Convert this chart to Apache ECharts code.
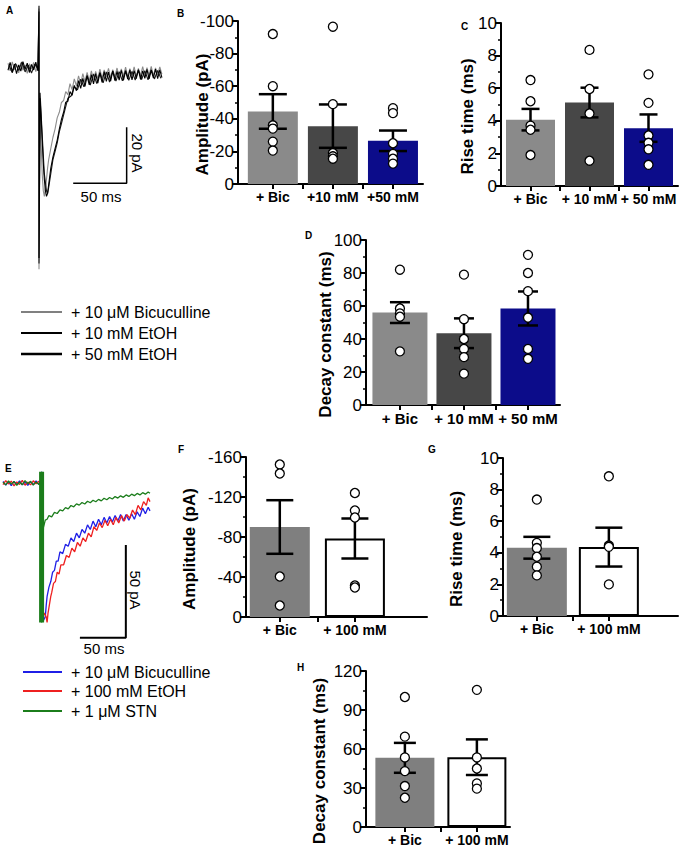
<!DOCTYPE html>
<html>
<head>
<meta charset="utf-8">
<title>EtOH / bicuculline IPSC figure</title>
<script src="https://cdn.jsdelivr.net/npm/echarts@6.0.0/dist/echarts.min.js"></script>
<style>
  html, body { margin: 0; padding: 0; background: #fff; }
  #main { width: 682px; height: 850px; }
</style>
</head>
<body>
<div id="main"></div>
<script>
// ---------- data ----------
// panel A traces, [time (ms), current (pA)]
var traceA_bic = [[0,1.5],[2,-1.2],[4,2.0],[6,-0.8],[8,1.1],[10,-1.9],[12,1.7],[14,-1.0],[16,0.9],[18,-2.1],[20,1.3],[22,-0.6],[24,1.8],[26,-1.5],[28,0.6],
  [29,21],[29,-72],[30,-14],[31,-27],[32,-38],[33,-44],[34,-46],[35,-43],[36,-40],[37,-36],[38,-33],[40,-29],[42,-25],[44,-22],[46,-18],[48,-16],
  [50,-12.5],[52,-11.8],[54,-8.6],[56,-9.7],[58,-5.8],[60,-7.9],[62,-4.1],[64,-6.6],[66,-3.0],[68,-5.9],[70,-2.2],[72,-5.1],[74,-1.8],[76,-4.7],
  [78,-1.2],[80,-4.5],[82,-1.4],[84,-4.0],[86,-0.6],[88,-3.9],[90,-0.9],[92,-3.4],[94,-0.3],[96,-3.6],[98,-0.8],[100,-3.2],[102,-0.2],[104,-3.5],
  [106,-0.5],[108,-3.0],[110,0.1],[112,-3.3],[114,-0.4],[116,-2.9],[118,0.2],[120,-3.1],[122,-0.3],[124,-2.8],[126,0.3],[128,-3.0],[130,-0.1],
  [132,-2.7],[134,0.4],[136,-2.9],[138,-0.2],[140,-2.6],[142,0.2],[144,-2.4]];
var traceA_10 = [[0,-1.0],[2,1.8],[4,-1.6],[6,1.2],[8,-2.2],[10,0.9],[12,-1.3],[14,2.1],[16,-0.7],[18,1.5],[20,-1.8],[22,1.1],[24,-0.9],[26,1.9],[28,-1.2],
  [29,22],[29,-68],[30,-11],[31,-18],[32,-26],[33,-34],[34,-40],[35,-44],[36,-46],[37,-45],[38,-42],[39,-39],[40,-36],[42,-32],[44,-29],[46,-26],
  [48,-22],[50,-18.5],[52,-16.0],[54,-12.4],[56,-12.1],[58,-8.6],[60,-10.0],[62,-6.4],[64,-8.3],[66,-4.7],[68,-7.5],[70,-3.9],[72,-6.8],[74,-3.1],
  [76,-6.2],[78,-2.6],[80,-5.9],[82,-2.2],[84,-5.6],[86,-1.9],[88,-5.3],[90,-1.5],[92,-5.0],[94,-1.7],[96,-4.9],[98,-1.2],[100,-4.7],[102,-1.4],
  [104,-4.5],[106,-1.0],[108,-4.6],[110,-1.3],[112,-4.2],[114,-0.9],[116,-4.4],[118,-1.1],[120,-4.0],[122,-0.8],[124,-4.3],[126,-1.2],[128,-3.9],
  [130,-0.7],[132,-4.1],[134,-1.0],[136,-3.8],[138,-0.6],[140,-4.0],[142,-0.9],[144,-3.6]];
var traceA_50 = [[1,0.7],[4,-1.9],[7,1.4],[10,-1.1],[13,2.0],[16,-1.6],[19,0.8],[22,-2.0],[25,1.2],[28,-0.5],
  [29,20],[29,-70],[30,-9],[32,-24],[34,-38],[36,-44],[37,-45],[38,-43],[40,-38],[42,-33],[44,-30],[46,-27],[48,-23],[50,-20],[53,-15.5],[56,-11.0],
  [59,-10.2],[62,-6.9],[65,-8.0],[68,-4.2],[71,-6.9],[74,-2.8],[77,-6.3],[80,-2.3],[83,-5.8],[86,-1.8],[89,-5.5],[92,-1.6],[95,-5.2],[98,-1.3],
  [101,-4.9],[104,-1.5],[107,-4.8],[110,-1.1],[113,-4.6],[116,-1.4],[119,-4.5],[122,-1.0],[125,-4.3],[128,-1.2],[131,-4.4],[134,-0.8],[137,-4.1],
  [140,-1.1],[143,-3.9]];

// panel E traces, [time (ms), current (pA)]
var traceE_bic = [[0,0.8],[3,-1.1],[6,0.6],[9,-1.4],[12,0.9],[15,-0.7],[18,1.2],[21,-1.0],[24,0.4],[27,-1.3],[30,0.7],[33,-0.9],[36,1.1],[39,-0.6],[41,0.3],
  [42,6],[42,-72],[44,-74],[46,-72],[47,-66],[48,-61],[50,-56],[52,-53],[54,-48],[56,-47],[58,-42],[60,-42],[62,-37],[65,-38],[68,-33],[71,-34],
  [74,-29.5],[77,-31.5],[80,-27],[83,-29.5],[86,-25],[89,-27],[92,-22.5],[95,-25],[98,-20.5],[101,-23.5],[104,-19.5],[107,-22.5],[110,-18.5],
  [113,-21.5],[116,-18],[119,-21],[122,-17.5],[125,-20.5],[128,-17],[131,-20.5],[134,-17],[137,-20],[140,-16.5],[143,-19.5],[146,-15.5],[149,-18],
  [152,-13.5],[155,-16.5],[158,-13],[160,-15]];
var traceE_100 = [[0,-0.9],[3,1.3],[6,-0.5],[9,1.0],[12,-1.5],[15,0.6],[18,-0.8],[21,1.4],[24,-1.2],[27,0.5],[30,-1.0],[33,1.2],[36,-0.4],[39,0.9],[41,-0.7],
  [42,5],[42,-73],[45,-70],[47,-72],[48,-75],[49,-70],[50,-67],[52,-61],[53,-59],[55,-54],[57,-53],[59,-48],[61,-49],[63,-44],[66,-44],[69,-39],
  [72,-40],[75,-35],[78,-37],[81,-32],[84,-34],[87,-29.5],[90,-31.5],[93,-27],[96,-29],[99,-23.5],[102,-25.5],[105,-21.5],[108,-24],[111,-20],
  [114,-23],[117,-19.5],[120,-22.5],[123,-18.5],[126,-21.5],[129,-17.5],[132,-20.5],[135,-17],[138,-19],[141,-14.5],[144,-17],[147,-12],[150,-14.5],
  [153,-10],[156,-12],[158,-8],[160,-10]];
var traceE_stn = [[0,0.4],[3,-1.0],[6,1.1],[9,-0.6],[12,0.8],[15,-1.2],[18,0.5],[21,-0.9],[24,1.3],[27,-0.4],[30,0.9],[33,-1.1],[36,0.6],[39,-0.8],[41,0.5],
  [42,6],[42,-75],[44,-24],[46,-20],[48,-19.5],[50,-17.5],[53,-18.2],[56,-15.8],[59,-16.4],[62,-14.5],[65,-15.0],[68,-13.2],[71,-13.9],[74,-12.1],
  [77,-12.8],[80,-11.2],[83,-11.9],[86,-10.5],[89,-11.3],[92,-9.8],[95,-10.6],[98,-9.3],[101,-10.1],[104,-8.8],[107,-9.6],[110,-8.2],[113,-9.0],
  [116,-7.8],[119,-8.6],[122,-7.3],[125,-8.1],[128,-6.9],[131,-7.7],[134,-6.4],[137,-7.2],[140,-6.0],[143,-6.8],[146,-5.6],[149,-6.4],[152,-5.2],
  [155,-6.0],[158,-4.8],[160,-5.5]];
var artifactE = [[42, 6], [42, -75]];

// scale bars (ms, pA)
var scaleA = { t: 61, v: -41.3, dt: 50, dv: 20 };
var scaleE = { t: 83.7, v: -83.3, dt: 50, dv: 50 };

// bar panels
var catsB = ['+ Bic', '+10 mM', '+50 mM'];
var catsCD = ['+ Bic', '+ 10 mM', '+ 50 mM'];
var catsFGH = ['+ Bic', '+ 100 mM'];

var ampB_mean = [-44.5, -35.5, -26.5];
var ampB_sem = [10.6, 13.3, 6.3];
var ampB_cells = [[-92, -60, -36, -34, -26, -20.5], [-96.5, -49, -19, -17, -15.5], [-46.5, -43.5, -25, -18.5, -15.5, -12.5]];

var riseC_mean = [4.07, 5.12, 3.55];
var riseC_sem = [0.66, 0.91, 0.84];
var riseC_cells = [[6.5, 5.2, 3.7, 3.45, 1.9], [8.35, 5.95, 4.45, 1.55], [6.85, 5.1, 3.1, 2.65, 2.25, 1.3]];

var decayD_mean = [56, 43.5, 58.5];
var decayD_sem = [6.3, 9, 10.3];
var decayD_cells = [[82, 58.5, 55.5, 53.5, 32.5], [79, 52, 40, 34, 29, 19], [91, 80, 69, 53, 34, 28]];

var ampF_mean = [-90, -78.5];
var ampF_sem = [26.8, 20];
var ampF_cells = [[-152.5, -143.5, -40.5, -11.5], [-124, -106.5, -99.5, -31.5, -29.5]];

var riseG_mean = [4.32, 4.36];
var riseG_sem = [0.69, 1.23];
var riseG_cells = [[7.37, 4.63, 4.3, 3.75, 3.12, 2.57], [8.84, 4.46, 4.38, 2.0]];

var decayH_mean = [53.2, 53.7];
var decayH_sem = [11.5, 13.7];
var decayH_cells = [[100, 69.5, 53.5, 43, 31.5, 22.5], [105.5, 53.5, 45, 33.5, 29.5]];

// ---------- chart ----------
var FONT = 'Arial, "Liberation Sans", Helvetica, sans-serif';
var colorsEtOH = ['#8a8a8a', '#474747', '#0c0c8a'];
var colorsSTN = ['#7f7f7f', '#ffffff'];

var grids = [], xAxes = [], yAxes = [], series = [];

function addTracePanel(box, tRange, vRange) {
  var i = grids.length;
  grids.push({ left: box[0], top: box[1], width: box[2], height: box[3] });
  xAxes.push({ gridIndex: i, type: 'value', min: tRange[0], max: tRange[1], show: false });
  yAxes.push({ gridIndex: i, type: 'value', min: vRange[0], max: vRange[1], show: false });
  return i;
}

function addTrace(i, data, color, width) {
  series.push({
    type: 'line', xAxisIndex: i, yAxisIndex: i, data: data, symbol: 'none',
    lineStyle: { color: color, width: width }, silent: true, clip: false
  });
}

function addScaleBar(i, s, width) {
  addTrace(i, [[s.t, s.v], [s.t + s.dt, s.v], [s.t + s.dt, s.v + s.dv]], '#000', width);
}

function addBarPanel(p) {
  var i = grids.length;
  grids.push({ left: p.box[0], top: p.box[1], width: p.box[2], height: p.box[3] });
  var ticks = [], labels = [];
  for (var k = 1; k <= p.cats.length; k++) {
    labels.push(k);
    ticks.push(k);
    if (k < p.cats.length) ticks.push(k + 0.5);
  }
  xAxes.push({
    gridIndex: i, type: 'value', min: p.xRange[0], max: p.xRange[1],
    axisLine: { onZero: false, lineStyle: { color: '#000', width: 2 } },
    axisTick: { customValues: ticks, length: 5, lineStyle: { color: '#000', width: 2 } },
    axisLabel: {
      customValues: labels, margin: 6, color: '#000', fontSize: p.xFont, fontWeight: 'bold', fontFamily: FONT,
      formatter: function (v) { return p.cats[Math.round(v) - 1]; }
    },
    splitLine: { show: false }
  });
  yAxes.push({
    gridIndex: i, type: 'value', min: p.yRange[0], max: p.yRange[1], interval: p.yStep, inverse: !!p.inverse,
    name: p.yName, nameLocation: 'middle', nameGap: p.nameGap, nameMoveOverlap: false,
    // shifted ~12px down from the axis middle, as in the figure
    nameTextStyle: { color: '#000', fontSize: 17, fontWeight: 'bold', fontFamily: FONT, padding: [0, 24, 0, 0] },
    axisLine: { show: true, onZero: false, lineStyle: { color: '#000', width: 2 } },
    axisTick: { show: true, length: 6, lineStyle: { color: '#000', width: 2 } },
    minorTick: { show: true, splitNumber: 2, length: 3, lineStyle: { color: '#000', width: 1.5 } },
    axisLabel: { color: '#000', fontSize: 17, fontFamily: FONT, margin: 4 },
    splitLine: { show: false }
  });
  series.push({
    type: 'bar', xAxisIndex: i, yAxisIndex: i, barWidth: p.barWidth, silent: true, z: 2,
    data: p.mean.map(function (m, k) {
      var white = p.colors[k] === '#ffffff';
      return { value: [k + 1, m], itemStyle: { color: p.colors[k], borderColor: white ? '#000' : p.colors[k], borderWidth: white ? 2 : 0 } };
    })
  });
  series.push({
    type: 'custom', xAxisIndex: i, yAxisIndex: i, silent: true, z: 3,
    encode: { x: 0, y: [1, 2] },
    data: p.mean.map(function (m, k) { return [k + 1, m - p.sem[k], m + p.sem[k]]; }),
    renderItem: function (params, api) {
      var lo = api.coord([api.value(0), api.value(1)]);
      var hi = api.coord([api.value(0), api.value(2)]);
      var h = p.cap / 2;
      var st = { stroke: '#000', lineWidth: 2.5 };
      return {
        type: 'group', children: [
          { type: 'line', shape: { x1: lo[0], y1: lo[1], x2: hi[0], y2: hi[1] }, style: st },
          { type: 'line', shape: { x1: lo[0] - h, y1: lo[1], x2: lo[0] + h, y2: lo[1] }, style: st },
          { type: 'line', shape: { x1: hi[0] - h, y1: hi[1], x2: hi[0] + h, y2: hi[1] }, style: st }
        ]
      };
    }
  });
  var pts = [];
  p.cells.forEach(function (arr, k) {
    arr.forEach(function (v) { pts.push([k + 1, v]); });
  });
  series.push({
    type: 'scatter', xAxisIndex: i, yAxisIndex: i, data: pts, symbol: 'circle', symbolSize: 9, silent: true, z: 4,
    itemStyle: { color: '#fff', borderColor: '#000', borderWidth: 1.3, opacity: 1 }
  });
}

// A
var gA = addTracePanel([8, 3, 155, 269], [0, 145], [-73, 23]);
addTrace(gA, traceA_bic, '#8c8c8c', 1.1);
addTrace(gA, traceA_50, '#1a1a1a', 1.1);
addTrace(gA, traceA_10, '#000', 1.1);
addScaleBar(gA, scaleA, 1.5);

// B, C, D
addBarPanel({ box: [238, 21, 185, 163], xRange: [0.42, 3.5], cats: catsB, xFont: 14, barWidth: 50, cap: 28,
  yRange: [-100, 0], yStep: 20, inverse: true, yName: 'Amplitude (pA)', nameGap: 27,
  mean: ampB_mean, sem: ampB_sem, cells: ampB_cells, colors: colorsEtOH });
addBarPanel({ box: [501, 23, 177, 163], xRange: [0.5, 3.5], cats: catsCD, xFont: 14, barWidth: 49, cap: 18,
  yRange: [0, 10], yStep: 2, yName: 'Rise time (ms)', nameGap: 25,
  mean: riseC_mean, sem: riseC_sem, cells: riseC_cells, colors: colorsEtOH });
addBarPanel({ box: [366, 240, 194, 165], xRange: [0.47, 3.5], cats: catsCD, xFont: 15, barWidth: 55, cap: 20,
  yRange: [0, 100], yStep: 20, yName: 'Decay constant (ms)', nameGap: 32,
  mean: decayD_mean, sem: decayD_sem, cells: decayD_cells, colors: colorsEtOH });

// E
var gE = addTracePanel([3, 470, 147, 171], [0, 160], [-85, 7]);
addTrace(gE, traceE_bic, '#1f1fe6', 1.3);
addTrace(gE, traceE_100, '#ee2020', 1.3);
addTrace(gE, traceE_stn, '#1b7d1b', 1.3);
addTrace(gE, artifactE, '#1b7d1b', 5);
addScaleBar(gE, scaleE, 2);

// F, G, H
addBarPanel({ box: [246, 457, 181, 160], xRange: [0.55, 2.96], cats: catsFGH, xFont: 14, barWidth: 60, cap: 27,
  yRange: [-160, 0], yStep: 40, inverse: true, yName: 'Amplitude (pA)', nameGap: 48,
  mean: ampF_mean, sem: ampF_sem, cells: ampF_cells, colors: colorsSTN });
addBarPanel({ box: [503, 458, 175, 158], xRange: [0.53, 2.96], cats: catsFGH, xFont: 14, barWidth: 60, cap: 27,
  yRange: [0, 10], yStep: 2, yName: 'Rise time (ms)', nameGap: 38,
  mean: riseG_mean, sem: riseG_sem, cells: riseG_cells, colors: colorsSTN });
addBarPanel({ box: [366, 671, 144, 156], xRange: [0.46, 2.46], cats: catsFGH, xFont: 14, barWidth: 59, cap: 22,
  yRange: [0, 120], yStep: 30, yName: 'Decay constant (ms)', nameGap: 38,
  mean: decayH_mean, sem: decayH_sem, cells: decayH_cells, colors: colorsSTN });

// letters, scale-bar captions, legends
function txt(x, y, s, size, extra) {
  var o = { type: 'text', x: x, y: y, silent: true,
    style: { text: s, fill: '#000', font: (extra && extra.bold ? 'bold ' : '') + size + 'px ' + FONT,
      align: (extra && extra.align) || 'left', verticalAlign: (extra && extra.va) || 'middle' } };
  if (extra && extra.rot) o.rotation = extra.rot;
  return o;
}
function legLine(x1, x2, y, color, w) {
  return { type: 'line', silent: true, shape: { x1: x1, y1: y, x2: x2, y2: y }, style: { stroke: color, lineWidth: w } };
}

var graphics = [
  txt(6, 5, 'A', 10, { bold: true, va: 'top' }),
  txt(177, 8, 'B', 10, { bold: true, va: 'top' }),
  txt(461, 21, 'C', 10, { bold: true, va: 'top' }),
  txt(305, 230, 'D', 10, { bold: true, va: 'top' }),
  txt(5, 463, 'E', 10, { bold: true, va: 'top' }),
  txt(178, 444, 'F', 10, { bold: true, va: 'top' }),
  txt(428, 444, 'G', 10, { bold: true, va: 'top' }),
  txt(297, 662, 'H', 10, { bold: true, va: 'top' }),

  txt(101, 196, '50 ms', 15, { align: 'center' }),
  txt(137, 153, '20 pA', 15, { align: 'center', rot: -Math.PI / 2 }),
  txt(104, 648, '50 ms', 15, { align: 'center' }),
  txt(135, 590, '50 pA', 15, { align: 'center', rot: -Math.PI / 2 }),

  legLine(21, 62, 312, '#808080', 2),
  legLine(21, 62, 333, '#000', 2),
  legLine(21, 62, 354, '#000', 2.5),
  txt(71, 312, '+ 10 μM Bicuculline', 16),
  txt(71, 333, '+ 10 mM EtOH', 16),
  txt(71, 354, '+ 50 mM EtOH', 16),

  legLine(23, 62, 672, '#1f1fe6', 2),
  legLine(23, 62, 691, '#ee2020', 2),
  legLine(23, 62, 711, '#1b7d1b', 2),
  txt(71, 672, '+ 10 μM Bicuculline', 16),
  txt(71, 691, '+ 100 mM EtOH', 16),
  txt(71, 711, '+ 1 μM STN', 16)
];

var chart = echarts.init(document.getElementById('main'), null, { renderer: 'svg' });
chart.setOption({
  animation: false,
  backgroundColor: '#fff',
  grid: grids,
  xAxis: xAxes,
  yAxis: yAxes,
  series: series,
  graphic: graphics
});
</script>
</body>
</html>
